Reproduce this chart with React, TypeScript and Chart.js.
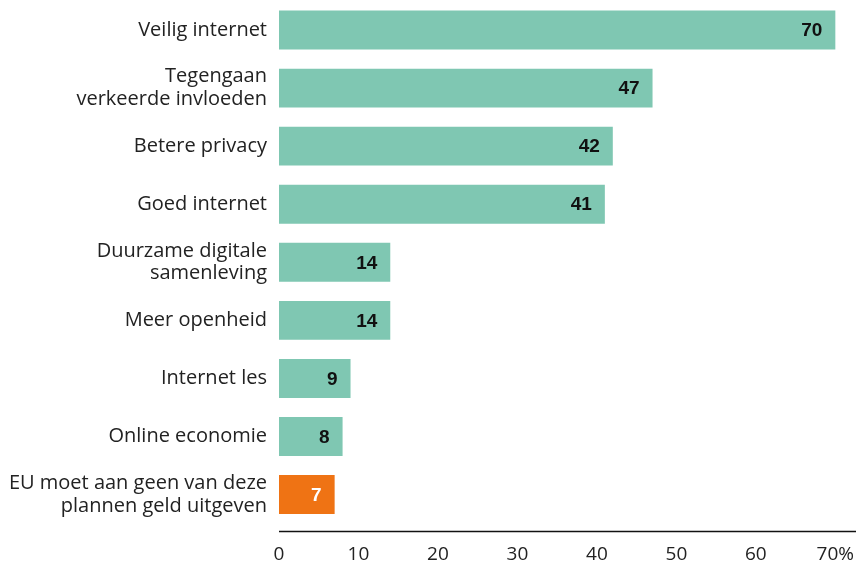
import React, { useEffect, useRef } from "react";
import { Chart, registerables } from "chart.js";

Chart.register(...registerables);

const categories: (string | string[])[] = [
  "Veilig internet",
  ["Tegengaan", "verkeerde invloeden"],
  "Betere privacy",
  "Goed internet",
  ["Duurzame digitale", "samenleving"],
  "Meer openheid",
  "Internet les",
  "Online economie",
  ["EU moet aan geen van deze", "plannen geld uitgeven"],
];
const values = [70, 47, 42, 41, 14, 14, 9, 8, 7];
const barColors = [
  "#7fc7b2", "#7fc7b2", "#7fc7b2", "#7fc7b2", "#7fc7b2",
  "#7fc7b2", "#7fc7b2", "#7fc7b2", "#ef7314",
];
const labelColors = [
  "#111111", "#111111", "#111111", "#111111", "#111111",
  "#111111", "#111111", "#111111", "#ffffff",
];
const xTicks = [0, 10, 20, 30, 40, 50, 60, 70];

const LABEL_FONT = "'Open Sans', 'Noto Sans', sans-serif";

const valueLabels = {
  id: "valueLabels",
  afterDatasetsDraw(chart: any) {
    const ctx = chart.ctx;
    const meta = chart.getDatasetMeta(0);
    ctx.save();
    ctx.font = "bold 19px 'Liberation Sans', Arial, sans-serif";
    ctx.textAlign = "right";
    ctx.textBaseline = "middle";
    meta.data.forEach((bar: any, i: number) => {
      ctx.fillStyle = labelColors[i];
      ctx.fillText(String(values[i]), bar.x - 13, bar.y + 1);
    });
    ctx.restore();
  },
};

const axisLine = {
  id: "axisLine",
  afterDraw(chart: any) {
    const ctx = chart.ctx;
    const xs = chart.scales.x;
    const y = chart.chartArea.bottom + 8;
    ctx.save();
    ctx.strokeStyle = "#111111";
    ctx.lineWidth = 1.5;
    ctx.beginPath();
    ctx.moveTo(xs.left, y);
    ctx.lineTo(xs.right, y);
    ctx.stroke();
    ctx.restore();
  },
};

export default function App() {
  const ref = useRef<HTMLCanvasElement>(null);
  useEffect(() => {
    if (!ref.current) return;
    const chart = new Chart(ref.current, {
      type: "bar",
      data: {
        labels: categories,
        datasets: [
          {
            data: values,
            backgroundColor: barColors,
            categoryPercentage: 1,
            barPercentage: 0.67,
          },
        ],
      },
      options: {
        indexAxis: "y",
        responsive: false,
        animation: false,
        layout: { padding: { top: 1, right: 6, left: 0, bottom: 0 } },
        plugins: { legend: { display: false }, tooltip: { enabled: false } },
        scales: {
          x: {
            min: 0,
            max: 72.6,
            grid: { display: false, drawTicks: false },
            border: { display: false },
            afterBuildTicks: (scale: any) => {
              scale.ticks = xTicks.map((v) => ({ value: v }));
            },
            afterFit: (scale: any) => {
              scale.height = 40.4;
              scale.paddingLeft = 0;
              scale.paddingRight = 0;
            },
            ticks: {
              padding: 20,
              maxRotation: 0,
              color: "#222222",
              font: { family: LABEL_FONT, size: 19 },
              callback: (v: any) => (v === 70 ? "70%" : String(v)),
            },
          },
          y: {
            grid: { display: false, drawTicks: false },
            border: { display: false },
            afterFit: (scale: any) => {
              scale.width = 279;
              scale.paddingTop = 0;
              scale.paddingBottom = 0;
            },
            ticks: {
              padding: 12,
              color: "#222222",
              font: { family: LABEL_FONT, size: 20, lineHeight: 1.14 },
            },
          },
        },
      },
      plugins: [valueLabels, axisLine],
    });
    return () => chart.destroy();
  }, []);
  return (
    <div style={{ position: "fixed", left: 0, top: 0, width: 862, height: 564, background: "#fff" }}>
      <canvas ref={ref} width={862} height={564} />
    </div>
  );
}
